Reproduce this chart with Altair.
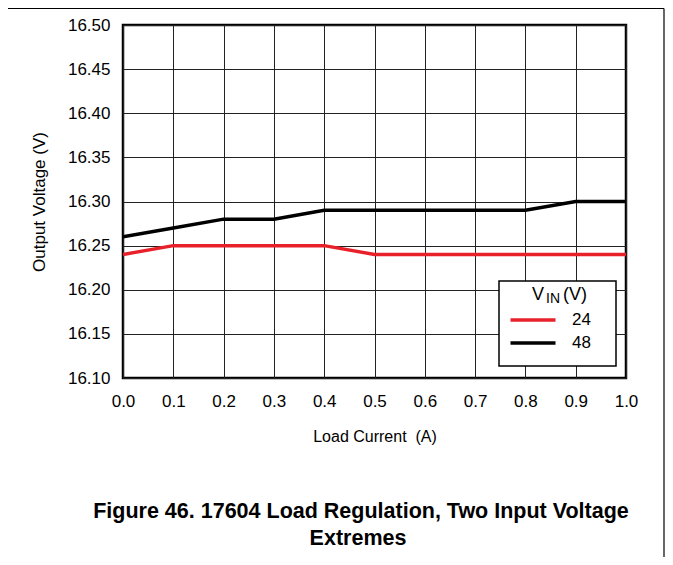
import altair as alt
import pandas as pd

load_current = [0.0, 0.1, 0.2, 0.3, 0.4, 0.5, 0.6, 0.7, 0.8, 0.9, 1.0]
vout_24 = [16.24, 16.25, 16.25, 16.25, 16.25, 16.24, 16.24, 16.24, 16.24, 16.24, 16.24]
vout_48 = [16.26, 16.27, 16.28, 16.28, 16.29, 16.29, 16.29, 16.29, 16.29, 16.30, 16.30]
series_names = ["24", "48"]
series_colors = ["#e8202a", "#000000"]
x_ticks = [0.0, 0.1, 0.2, 0.3, 0.4, 0.5, 0.6, 0.7, 0.8, 0.9, 1.0]
y_ticks = [16.10, 16.15, 16.20, 16.25, 16.30, 16.35, 16.40, 16.45, 16.50]

rows = []
for name, vals in zip(series_names, [vout_24, vout_48]):
    for x, v in zip(load_current, vals):
        rows.append({"x": x, "v": v, "vin": name})
df = pd.DataFrame(rows)

FONT = "Liberation Sans"
W, H = 503, 353

lines = alt.Chart(df).mark_line(strokeWidth=3.5, clip=True).encode(
    x=alt.X("x:Q", scale=alt.Scale(domain=[0, 1], nice=False),
            axis=alt.Axis(values=x_ticks, format=".1f", title="Load Current\u00a0 (A)",
                          grid=True, gridColor="#222", gridWidth=1, ticks=False,
                          domain=False, labelFont=FONT, labelFontSize=17,
                          labelPadding=15, titleFont=FONT, titleFontSize=16,
                          titleFontWeight="normal", titlePadding=19, labelColor="#000",
                          titleColor="#000", labelFlush=False)),
    y=alt.Y("v:Q", scale=alt.Scale(domain=[16.10, 16.50], nice=False, zero=False),
            axis=alt.Axis(values=y_ticks, format=".2f", title="Output Voltage (V)",
                          grid=True, gridColor="#222", gridWidth=1, ticks=False,
                          domain=False, labelFont=FONT, labelFontSize=17,
                          labelPadding=13, titleFont=FONT, titleFontSize=17,
                          titleFontWeight="normal", titlePadding=19, labelColor="#000",
                          titleColor="#000", labelFlush=False)),
    color=alt.Color("vin:N", scale=alt.Scale(domain=series_names, range=series_colors),
                    legend=alt.Legend(title=None, orient="none", legendX=399, legendY=284,
                                      symbolType="M-2.5,0H2.5", symbolSize=324,
                                      symbolStrokeWidth=3.5, labelFont=FONT,
                                      labelFontSize=17, labelOffset=28, rowPadding=4,
                                      padding=0, labelColor="#000")),
)

one = alt.Data(values=[{"a": 1}])

legend_box = alt.Chart(one).mark_rect(fill="white", stroke="black", strokeWidth=1.5).encode(
    x=alt.value(376), x2=alt.value(493), y=alt.value(256), y2=alt.value(341)
)

def txt(s, x, y, size=16, weight="normal", align="left"):
    return alt.Chart(one).mark_text(text=s, font=FONT, fontSize=size, fontWeight=weight,
                                    align=align, baseline="middle", color="black").encode(
        x=alt.value(x), y=alt.value(y))

leg_title = (txt("V", 409, 270, size=18) + txt("IN", 423, 274, size=14)
             + txt("(V)", 440, 270, size=18))

frame_top = alt.Chart(one).mark_rule(color="black", strokeWidth=1.2).encode(
    x=alt.value(-115), x2=alt.value(541), y=alt.value(-16.5))
frame_right = alt.Chart(one).mark_rule(color="black", strokeWidth=1.2).encode(
    x=alt.value(541), y=alt.value(-16.5), y2=alt.value(540))

fig1 = txt("Figure 46. 17604 Load Regulation, Two Input Voltage", 238, 487, size=21.5,
           weight="bold", align="center")
fig2 = txt("Extremes", 235, 514, size=21.5, weight="bold", align="center")

chart = alt.layer(legend_box, lines, leg_title, frame_top, frame_right, fig1, fig2).properties(
    width=W, height=H,
    autosize=alt.AutoSizeParams(type="none"),
    padding={"left": 115, "top": 17, "right": 39, "bottom": 179},
).configure_view(stroke="black", strokeWidth=2.5)

chart.save("out.html", embed_options={"renderer": "svg", "actions": False})
